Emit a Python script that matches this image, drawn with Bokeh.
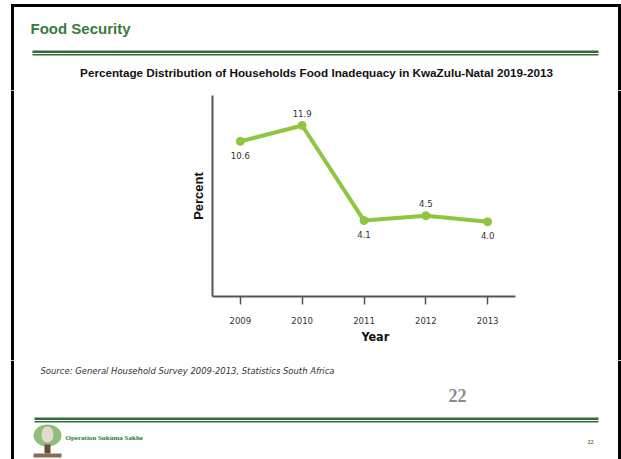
from bokeh.plotting import figure
from bokeh.layouts import column, row
from bokeh.models import Range1d, FixedTicker, Title
from bokeh.core.properties import value
from bokeh.embed import file_html
from bokeh.resources import INLINE

# ---- data ----
years = [2009, 2010, 2011, 2012, 2013]
percent = [10.6, 11.9, 4.1, 4.5, 4.0]
value_labels = ["10.6", "11.9", "4.1", "4.5", "4.0"]
label_side = ["below", "above", "below", "above", "below"]
year_labels = ["2009", "2010", "2011", "2012", "2013"]

slide_title = "Food Security"
chart_title = "Percentage Distribution of Households Food Inadequacy in KwaZulu-Natal 2019-2013"
y_title = "Percent"
x_title = "Year"
source_note = "Source: General Household Survey 2009-2013, Statistics South Africa"
page_number = "22"
footer_text = "Operation Sukuma Sakhe"

GREEN_TXT = "#3c7a3c"
RULE = "#336b3d"
LINE = "#8dc63f"
NARROW = "DejaVu Sans Condensed"
SANS = "Liberation Sans"
SERIF = "Liberation Serif"

W, H = 621, 459
ROW_TOP, ROW_BOT = 90, 360
CH_X0, CH_X1 = 150, 560
FL, FR, FT, FB = 212, 515, 95, 296  # chart frame (window px)


def deco(x0, x1, y0, y1):
    f = figure(width=x1 - x0, height=y1 - y0, output_backend="svg", toolbar_location=None,
               x_range=Range1d(x0, x1), y_range=Range1d(y1, y0),
               x_axis_location=None, y_axis_location=None, min_border=0,
               frame_align=False)
    f.outline_line_color = None
    f.grid.visible = False
    f.background_fill_color = "white"
    f.border_fill_color = "white"
    # slide border, kept inside this piece
    top = max(y0, 3.5)
    bot = min(y1, H)
    lefts, rights, tops, bots = [], [], [], []
    for a, b in ((10.5, 13.5), (617.5, 620.5)):
        if b > x0 and a < x1:
            lefts.append(max(a, x0))
            rights.append(min(b, x1))
            tops.append(top)
            bots.append(bot)
    if y0 <= 3.5:
        lefts.append(max(10.5, x0))
        rights.append(min(620.5, x1))
        tops.append(3.5)
        bots.append(6.5)
    if lefts:
        f.quad(left=lefts, right=rights, top=tops, bottom=bots,
               fill_color="#000000", line_color=None)
    return f


def txt(f, x, y, s, **kw):
    kw.setdefault("text_baseline", "middle")
    kw.setdefault("text_align", "left")
    f.text([x], [y], text=[s], **kw)


# ---- header ----
header = deco(0, W, 0, ROW_TOP)
txt(header, 30, 28, slide_title, text_font=value(SANS), text_font_style="bold",
    text_font_size="15px", text_color=GREEN_TXT)
header.quad(left=[32, 32], right=[598, 598], top=[50, 53.5], bottom=[52.5, 55],
            fill_color=RULE, line_color=None)
txt(header, 316, 72, chart_title, text_align="center", text_font=value(SANS),
    text_font_style="bold", text_font_size="11.7px", text_color="#111111")

# ---- side pieces ----
left = deco(0, CH_X0, ROW_TOP, ROW_BOT)
right = deco(CH_X1, W, ROW_TOP, ROW_BOT)

# ---- chart ----
p = figure(width=CH_X1 - CH_X0, height=ROW_BOT - ROW_TOP, output_backend="svg",
           toolbar_location=None, frame_align=False,
           x_range=Range1d(2008.55, 2013.45), y_range=Range1d(-2.13, 14.36),
           min_border_left=FL - CH_X0, min_border_right=CH_X1 - FR,
           min_border_top=FT - ROW_TOP, min_border_bottom=ROW_BOT - FB)
p.outline_line_color = None
p.grid.grid_line_color = None
p.background_fill_color = "white"
p.border_fill_color = "white"

xa = p.xaxis[0]
xa.ticker = FixedTicker(ticks=years)
xa.major_label_overrides = {y: s for y, s in zip(years, year_labels)}
xa.axis_line_color = "#555555"
xa.axis_line_width = 2
xa.major_tick_line_color = "#555555"
xa.major_tick_line_width = 1.5
xa.major_tick_out = 8
xa.major_tick_in = 0
xa.minor_tick_line_color = None
xa.major_label_text_font = NARROW
xa.major_label_text_font_size = "9.5px"
xa.major_label_text_color = "#333333"
xa.major_label_standoff = 12

ya = p.yaxis[0]
ya.ticker = FixedTicker(ticks=[])
ya.axis_line_color = "#555555"
ya.axis_line_width = 2
ya.minor_tick_line_color = None
ya.major_tick_line_color = None
ya.axis_label = y_title
ya.axis_label_text_font = SANS
ya.axis_label_text_font_style = "bold"
ya.axis_label_text_font_size = "13px"
ya.axis_label_text_color = "#111111"
ya.axis_label_standoff = 7

p.add_layout(Title(text=x_title, align="left", offset=361 - FL, text_font=NARROW,
                   text_font_style="bold", text_font_size="12.5px", text_color="#111111",
                   standoff=0), "below")

p.line(years, percent, line_color=LINE, line_width=4)
p.scatter(years, percent, size=8, color=LINE)

for side, dy in (("above", -12), ("below", 14)):
    idx = [i for i, s in enumerate(label_side) if s == side]
    p.text([years[i] for i in idx], [percent[i] for i in idx],
           text=[value_labels[i] for i in idx], y_offset=dy,
           text_align="center", text_baseline="middle",
           text_font=value(NARROW), text_font_size="9.5px", text_color="#333333")

# ---- footer ----
footer = deco(0, W, ROW_BOT, H)
txt(footer, 40, 370, source_note, text_font=value(NARROW), text_font_style="italic",
    text_font_size="9.4px", text_color="#333333")
txt(footer, 457, 395, page_number, text_align="center", text_font=value(SERIF),
    text_font_style="bold", text_font_size="18px", text_color="#8a8a8a")
footer.quad(left=[34, 34], right=[598, 598], top=[417, 420.5], bottom=[419.5, 422],
            fill_color=RULE, line_color=None)
# logo
footer.ellipse(x=[47], y=[435], width=[28], height=[22], fill_color="#8fbf7a", line_color=None)
footer.ellipse(x=[47], y=[434], width=[12], height=[16], fill_color="#e8d8cf", line_color=None)
footer.quad(left=[44], right=[50], top=[444], bottom=[453], fill_color="#6b4a3a", line_color=None)
footer.quad(left=[33], right=[61], top=[453], bottom=[457], fill_color="#8a6a60", line_color=None)
txt(footer, 65, 437, footer_text, text_font=value(SERIF), text_font_style="bold",
    text_font_size="7px", text_color="#2e7d32")
txt(footer, 590, 441, page_number, text_align="center", text_font=value(SERIF),
    text_font_style="bold", text_font_size="6px", text_color="#2e7d32")

layout = column(header, row(left, p, right), footer)
open("out.html", "w").write(file_html(layout, INLINE))
